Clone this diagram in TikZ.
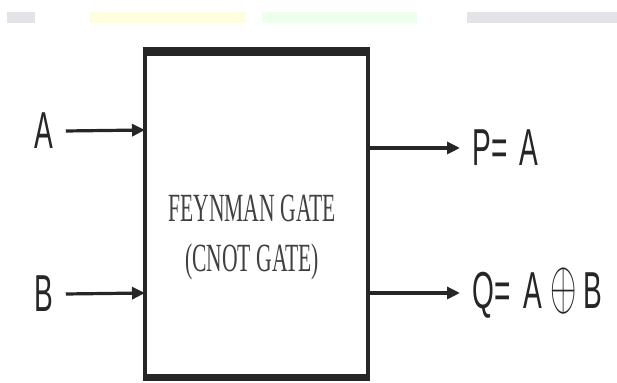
\documentclass[tikz,border=0pt]{standalone}
\usepackage{fontspec}
\setsansfont{Liberation Sans}
\setmainfont{Liberation Serif}
\usetikzlibrary{arrows.meta}

\newcommand{\narrow}[1]{\scalebox{0.54}[1]{#1}}
\newcommand{\xorsym}{\scalebox{0.68}[1.4]{$\oplus$}}

\begin{document}
\begin{tikzpicture}[x=0.5pt, y=-0.5pt,
    port/.style={line width=1.6pt, black!85, -{Triangle[length=6.5pt, width=6pt]}},
    sig/.style={font=\sffamily\fontsize{26}{26}\selectfont, text=black!85, inner sep=0pt},
    gatetext/.style={font=\rmfamily\fontsize{20}{25}\selectfont, text=black!75, align=center}]

    % 図の範囲
    \useasboundingbox (0,0) rectangle (617,383);

    % 上端の薄い帯
    \fill [blue!10!gray!20] (7,12) rectangle (35,23);
    \fill [yellow!12] (90,12) rectangle (245,23);
    \fill [green!7] (262,12) rectangle (417,23);
    \fill [blue!10!gray!20] (467,12) rectangle (617,23);

    % ゲートの座標の定義
    \coordinate (G1) at (145,52);
    \coordinate (G2) at (368,378);
    \coordinate (inA) at (145,130);
    \coordinate (inB) at (145,293);
    \coordinate (outP) at (368,148);
    \coordinate (outQ) at (368,293);

    % ゲートの描画
    \draw [line width=2.4pt, black!85] (G1) rectangle (G2);
    \draw [line width=4.5pt, black!85] ([xshift=-1.2pt]G1) -- ([xshift=1.2pt]G1 -| G2);
    \draw [line width=3.5pt, black!85] ([xshift=-1.2pt]G2 -| G1) -- ([xshift=1.2pt]G2);
    \node [gatetext] (gate) at (252,238) {\narrow{FEYNMAN GATE}\\\narrow{(CNOT GATE)}};

    % 入出力のラベル
    \node [sig] (A) at (44,131) {\narrow{A}};
    \node [sig] (B) at (44,294) {\narrow{B}};
    \node [sig, anchor=west] (P) at (472,148) {\narrow{P= \,A}};
    \node [sig, anchor=west] (Q) at (472,293) {\narrow{Q= \,A}\hspace{4.5pt}\xorsym\hspace{3pt}\narrow{B}};

    % 矢印の描画
    \draw [port] ([xshift=6pt]A.east) -- (inA);
    \draw [port] ([xshift=6pt]B.east) -- (inB);
    \draw [port] (outP) -- ([xshift=-6pt]P.west);
    \draw [port] (outQ) -- ([xshift=-6pt]Q.west);

\end{tikzpicture}
\end{document}
